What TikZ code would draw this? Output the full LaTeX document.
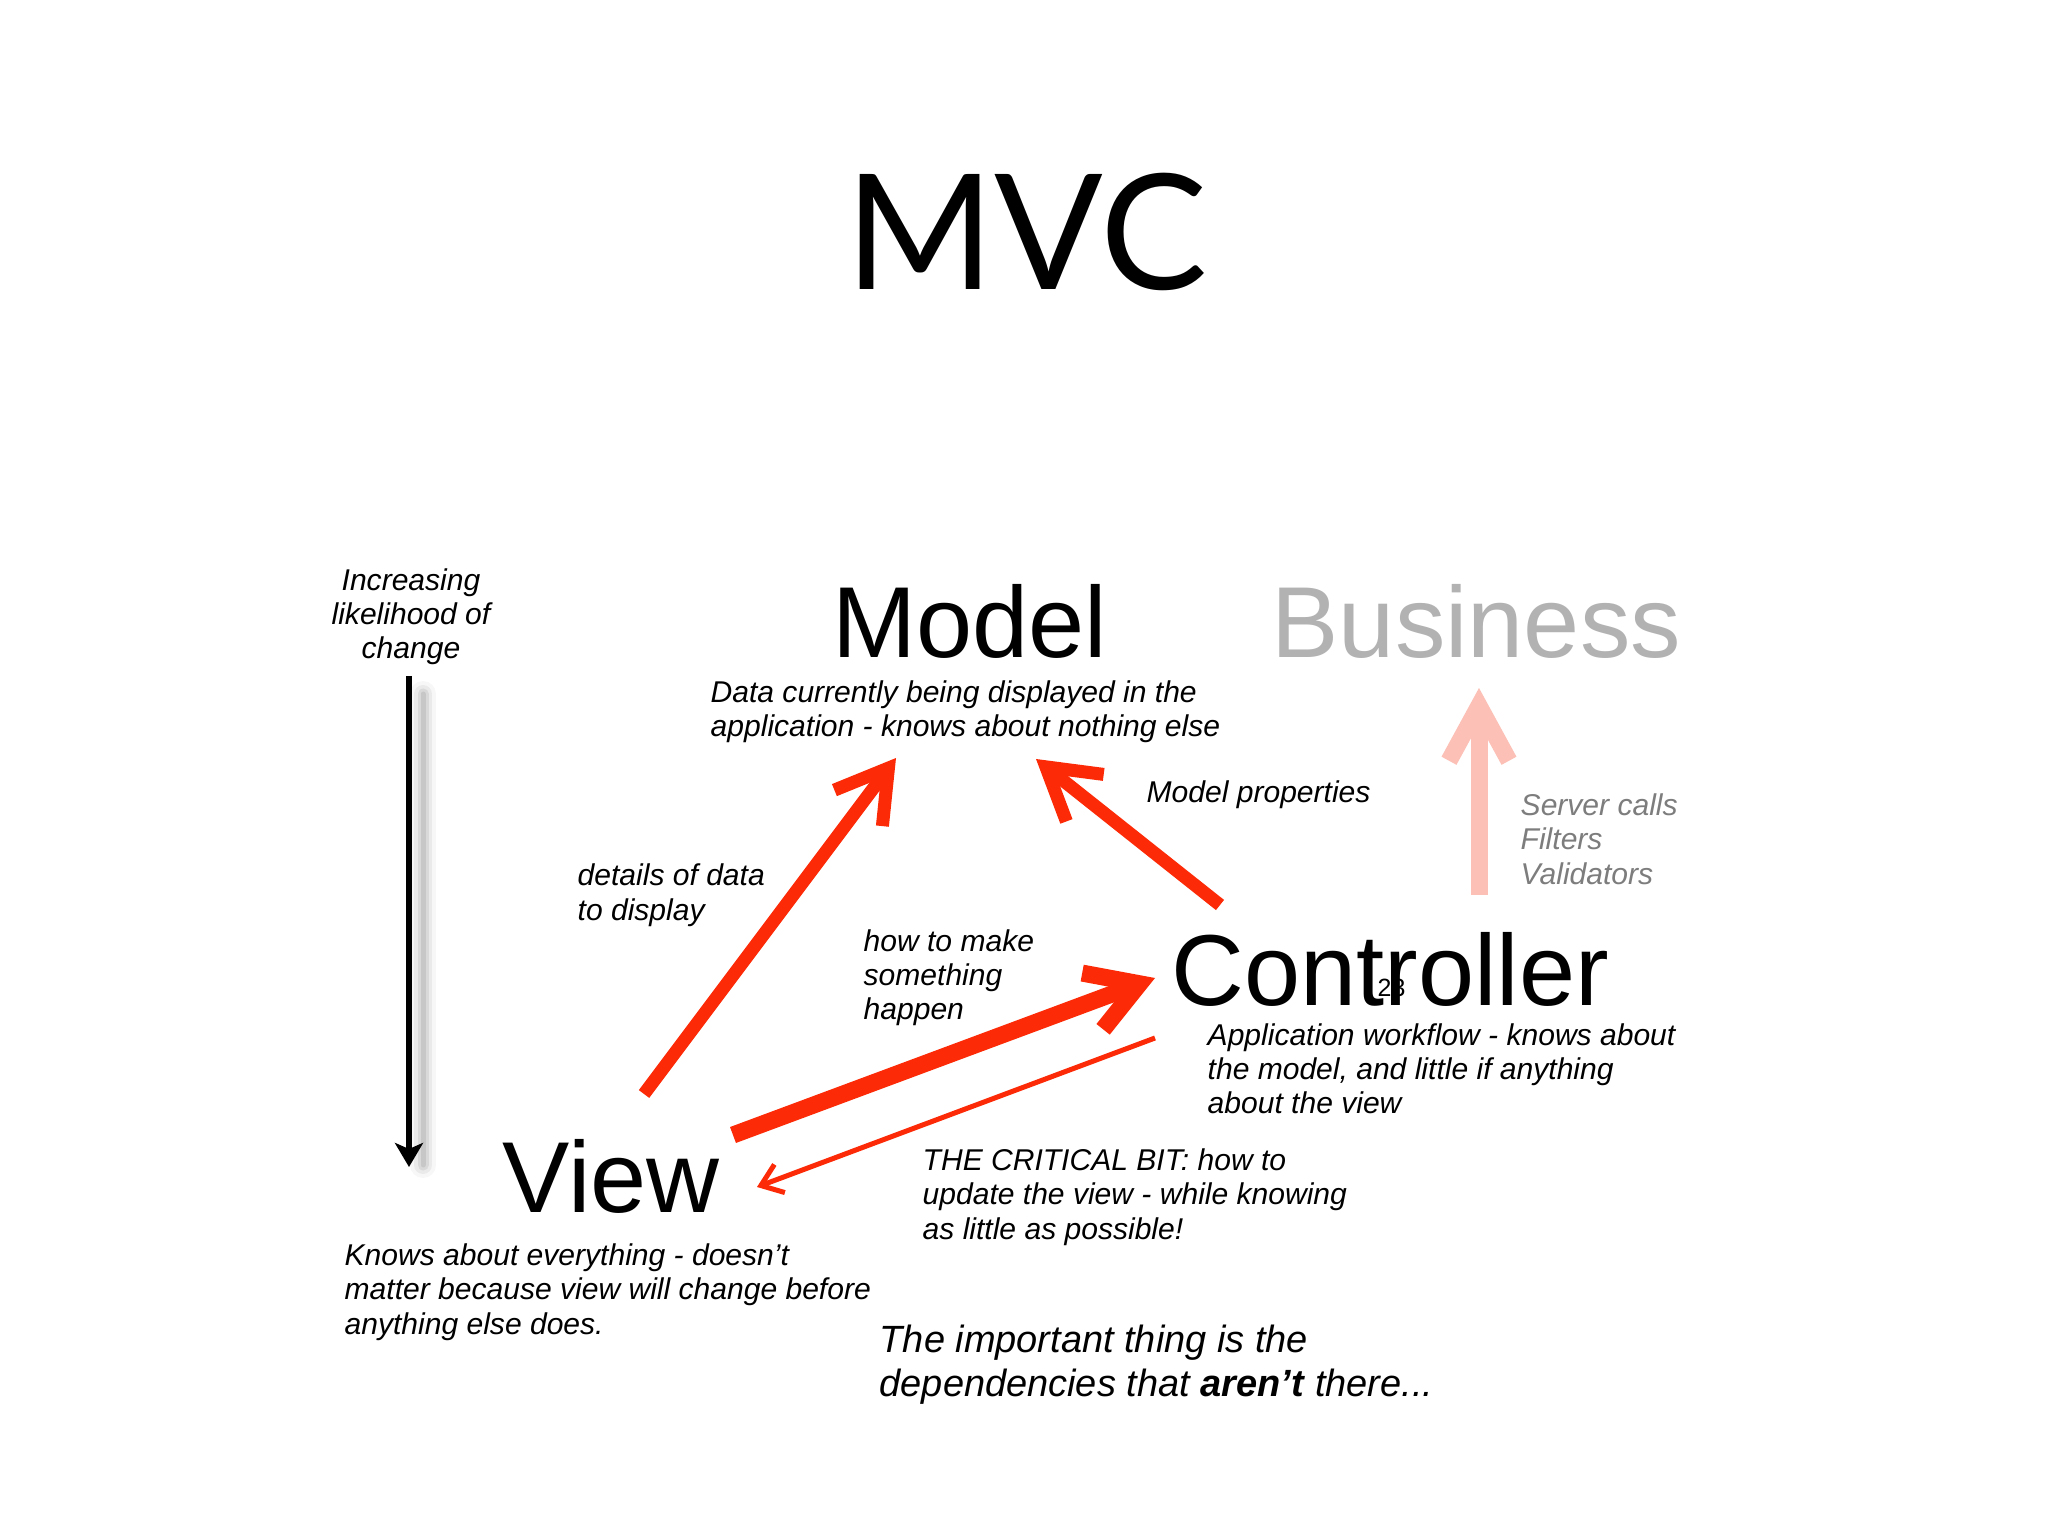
\documentclass[tikz,border=0pt]{standalone}
\usepackage{fontspec}
\setmainfont{Liberation Sans}
\newfontfamily\titlefont{Lato}
\usetikzlibrary{arrows.meta}
\definecolor{MvcRed}{RGB}{252,42,6}
\definecolor{MvcPink}{RGB}{252,192,182}
\definecolor{MvcGrey}{RGB}{178,178,178}
\definecolor{MvcNote}{RGB}{125,125,125}
\newcommand{\bigsz}{\fontsize{28.7}{30}\selectfont}
\newcommand{\notesz}{\fontsize{8.55}{9.7}\selectfont\itshape}
\newcommand{\leadsz}{\fontsize{10.8}{12.25}\selectfont\itshape}

\begin{document}
\begin{tikzpicture}[
  big/.style={
    font=\bigsz, inner sep=0pt, anchor=base west
  },
  note/.style={
    font=\notesz, inner sep=0pt, anchor=base west, align=left
  },
  lead/.style={
    font=\leadsz, inner sep=0pt, anchor=base west, align=left
  },
  dep/.style={
    -{Straight Barb[length=5mm, width=6mm]},
    line width=1.3mm, color=MvcRed
  },
  heavydep/.style={
    dep, line width=1.7mm
  },
  backdep/.style={
    -{Straight Barb[length=2mm, width=3mm]},
    line width=0.5mm, color=MvcRed
  },
  busdep/.style={
    -{Straight Barb[length=5.5mm, width=6mm]},
    line width=1.7mm, color=MvcPink
  },
  chgarrow/.style={
    -{Stealth[length=2.4mm, width=2.8mm, inset=0.6mm]},
    line width=0.6mm, color=black
  }
]

%% ── Lienzo: 1 px de la lámina = 0.01 cm ──────────────────────────────────
\useasboundingbox[fill=white] (0,0) rectangle (20.48,-15.36);

%% ── Título ───────────────────────────────────────────────────────────────
\node[font=\titlefont\fontsize{45.7}{48}\selectfont, inner sep=0pt,
      anchor=base] (title) at (10.265,-2.90) {MVC};

%% ── Capas ────────────────────────────────────────────────────────────────
\node[big] (model)    at (8.32,-6.57)  {Model};
\node[big, text=MvcGrey] (business) at (12.71,-6.57) {Business};
\node[big] (ctrl)     at (11.71,-10.05) {Controller};
\node[big] (view)     at (5.02,-12.12) {View};
\node[font=\fontsize{7.1}{8}\selectfont, inner sep=0pt,
      anchor=base west] (pgnum) at (13.77,-9.96) {23};

%% ── Notas (la base es la de la última línea) ────────────────────────────
\node[note] (modeldesc) at (7.10,-7.37)
  {Data currently being displayed in the\\application - knows about nothing else};
\node[note, align=center, anchor=base] (change) at (4.11,-6.59)
  {Increasing\\likelihood of\\change};
\node[note] (props) at (11.46,-8.02) {Model properties};
\node[note, text=MvcNote] (server) at (15.20,-8.84)
  {Server calls\\Filters\\Validators};
\node[note] (details) at (5.77,-9.20) {details of data\\to display};
\node[note] (how) at (8.63,-10.20) {how to make\\something\\happen};
\node[note] (ctrldesc) at (12.07,-11.14)
  {Application workflow - knows about\\the model, and little if anything\\about the view};
\node[note] (critical) at (9.22,-12.39)
  {THE CRITICAL BIT: how to\\update the view - while knowing\\as little as possible!};
\node[note] (viewdesc) at (3.44,-13.34)
  {Knows about everything - doesn’t\\matter because view will change before\\anything else does.};
\node[lead] (moral) at (8.79,-13.96)
  {The important thing is the\\dependencies that \textbf{aren’t} there...};

%% ── Extremos de las flechas ──────────────────────────────────────────────
\coordinate (view-up)    at (6.44,-10.94);
\coordinate (model-l)    at (8.96,-7.58);
\coordinate (ctrl-up)    at (12.20,-9.05);
\coordinate (model-r)    at (10.36,-7.59);
\coordinate (view-right) at (7.33,-11.35);
\coordinate (ctrl-l)     at (11.55,-9.78);
\coordinate (ctrl-low)   at (11.55,-10.38);
\coordinate (view-in)    at (7.57,-11.87);
\coordinate (bus-low)    at (14.79,-8.95);
\coordinate (bus-in)     at (14.79,-6.88);
\coordinate (chg-top)    at (4.09,-6.76);
\coordinate (chg-end)    at (4.09,-11.67);

%% ── Dependencias ─────────────────────────────────────────────────────────
\draw[dep]      (view-up)  -- (model-l);
\draw[dep]      (ctrl-up)  -- (model-r);
\draw[heavydep] (view-right) -- (ctrl-l);
\draw[backdep]  (ctrl-low) -- (view-in);
\draw[busdep]   (bus-low)  -- (bus-in);

%% ── Eje de cambio (con sombra difusa) ────────────────────────────────────
\foreach \w/\op in {0.26/0.03, 0.18/0.05, 0.11/0.07, 0.05/0.08}
  \draw[line width=\w cm, black, opacity=\op, line cap=round]
    ([shift={(0.14,-0.18)}]chg-top) -- ([shift={(0.14,0.02)}]chg-end);
\draw[chgarrow] (chg-top) -- (chg-end);

\end{tikzpicture}
\end{document}
